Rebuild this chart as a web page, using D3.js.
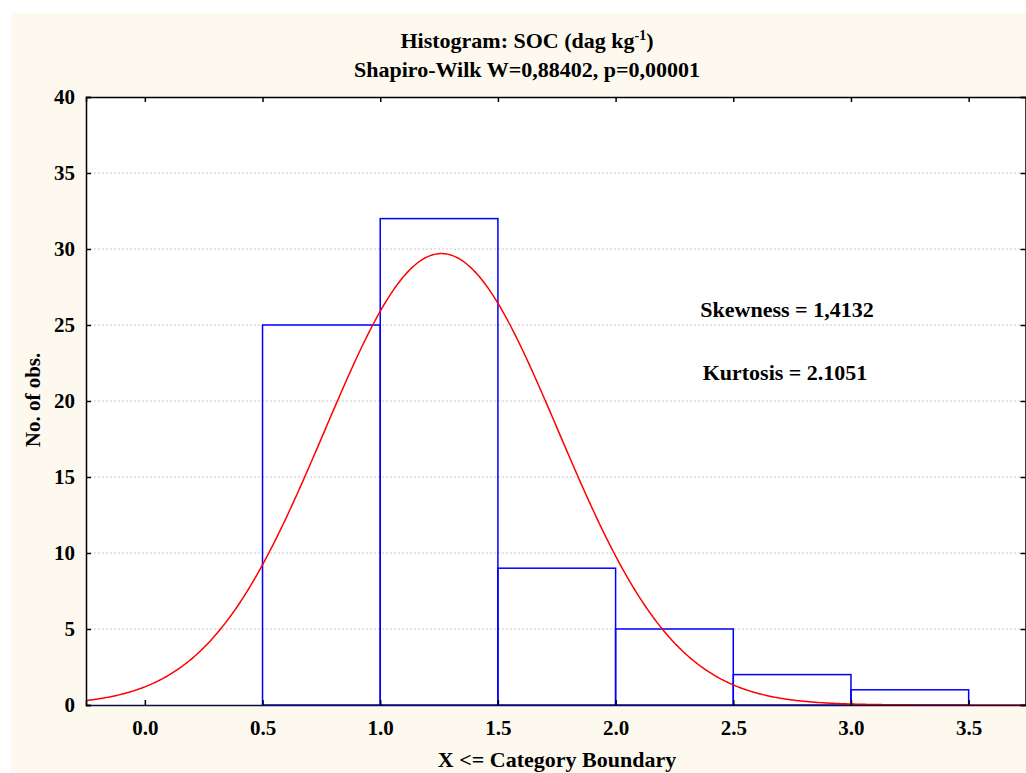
<!DOCTYPE html>
<html><head><meta charset="utf-8">
<script src="https://cdn.jsdelivr.net/npm/d3@7"></script>
<style>
html,body{margin:0;padding:0;background:#fff;}
text{font-family:"Liberation Serif","Times New Roman",serif;font-weight:bold;fill:#000;}
</style></head>
<body>
<svg id="chart" width="1026" height="773"></svg>
<script>
// Data
const binEdges = [0.0, 0.5, 1.0, 1.5, 2.0, 2.5, 3.0, 3.5];
const counts = [0, 25, 32, 9, 5, 2, 1];
const xTicks = [0.0, 0.5, 1.0, 1.5, 2.0, 2.5, 3.0, 3.5];
const yTicks = [0, 5, 10, 15, 20, 25, 30, 35, 40];
// fitted normal curve parameters
const fitMean = 1.26;
const fitSd = 0.497;
const nObs = 74;
const binWidth = 0.5;

const svg = d3.select("#chart");
svg.append("rect").attr("x",11).attr("y",13).attr("width",1015).attr("height",760).attr("fill","#fdf9ef");

const L = 86, T = 97, B = 705, R = 1027.5;
const x = d3.scaleLinear().domain([-0.25, 3.75]).range([L, R]);
const y = d3.scaleLinear().domain([0, 40]).range([B, T]);

svg.append("rect").attr("x",L).attr("y",T).attr("width",R-L).attr("height",B-T).attr("fill","#fff");

// grid
svg.append("g").selectAll("line").data(yTicks.filter(d=>d>0 && d<40)).join("line")
  .attr("x1",L).attr("x2",R).attr("y1",d=>y(d)).attr("y2",d=>y(d))
  .attr("stroke","#c8c8c8").attr("stroke-width",1).attr("stroke-dasharray","2,2");

// bars
const bins = counts.map((c,i)=>({x0:binEdges[i],x1:binEdges[i+1],c}));
svg.append("g").selectAll("rect").data(bins.filter(d=>d.c>0)).join("rect")
  .attr("x",d=>x(d.x0)).attr("y",d=>y(d.c))
  .attr("width",d=>x(d.x1)-x(d.x0)).attr("height",d=>y(0)-y(d.c))
  .attr("fill","none").attr("stroke","#0000ff").attr("stroke-width",1.5);

// curve
const xs = d3.range(-0.25, 3.7501, 0.005);
const curve = xs.map(v=>[v, nObs*binWidth/(fitSd*Math.sqrt(2*Math.PI))*Math.exp(-0.5*Math.pow((v-fitMean)/fitSd,2))]);
svg.append("path").datum(curve)
  .attr("d", d3.line().x(d=>x(d[0])).y(d=>y(d[1])).curve(d3.curveLinear))
  .attr("fill","none").attr("stroke","#ff0000").attr("stroke-width",1.5);

// axes
const fmtX = d3.format(".1f");
const ax = svg.append("g").attr("transform",`translate(0,${B})`)
  .call(d3.axisBottom(x).tickValues(xTicks).tickSize(-5).tickPadding(15).tickFormat(fmtX));
const axT = svg.append("g").attr("transform",`translate(0,${T})`)
  .call(d3.axisTop(x).tickValues(xTicks).tickSize(-5).tickFormat(""));
const ay = svg.append("g").attr("transform",`translate(${L},0)`)
  .call(d3.axisLeft(y).tickValues(yTicks).tickSize(-5).tickPadding(11));
const ayR = svg.append("g").attr("transform",`translate(${R-2},0)`)
  .call(d3.axisRight(y).tickValues(yTicks).tickSize(-5).tickFormat(""));
[ax,axT,ay,ayR].forEach(g=>{
  g.select(".domain").attr("stroke","#000").attr("stroke-width",1.5);
  g.selectAll(".tick line").attr("stroke","#000").attr("stroke-width",1.5);
  g.selectAll("text").style("font-family","'Liberation Serif',serif").style("font-weight","bold").style("font-size","21px").attr("fill","#000");
});
ax.select(".domain").attr("stroke","#101040");

// titles
const t1 = svg.append("text").attr("x",527).attr("y",48).attr("text-anchor","middle").style("font-size","22px");
t1.append("tspan").text("Histogram: SOC (dag kg");
t1.append("tspan").attr("dy",-8).style("font-size","14px").text("-1");
t1.append("tspan").attr("dy",8).text(")");
svg.append("text").attr("x",527).attr("y",77).attr("text-anchor","middle").style("font-size","22px")
  .text("Shapiro-Wilk W=0,88402, p=0,00001");

svg.append("text").attr("x",557).attr("y",767).attr("text-anchor","middle").style("font-size","22px")
  .text("X <= Category Boundary");
svg.append("text").attr("transform","translate(40,400) rotate(-90)").attr("text-anchor","middle").style("font-size","21px")
  .text("No. of obs.");

svg.append("text").attr("x",787).attr("y",317).attr("text-anchor","middle").style("font-size","22px").text("Skewness = 1,4132");
svg.append("text").attr("x",785).attr("y",380).attr("text-anchor","middle").style("font-size","22px").text("Kurtosis = 2.1051");
</script>
</body></html>
